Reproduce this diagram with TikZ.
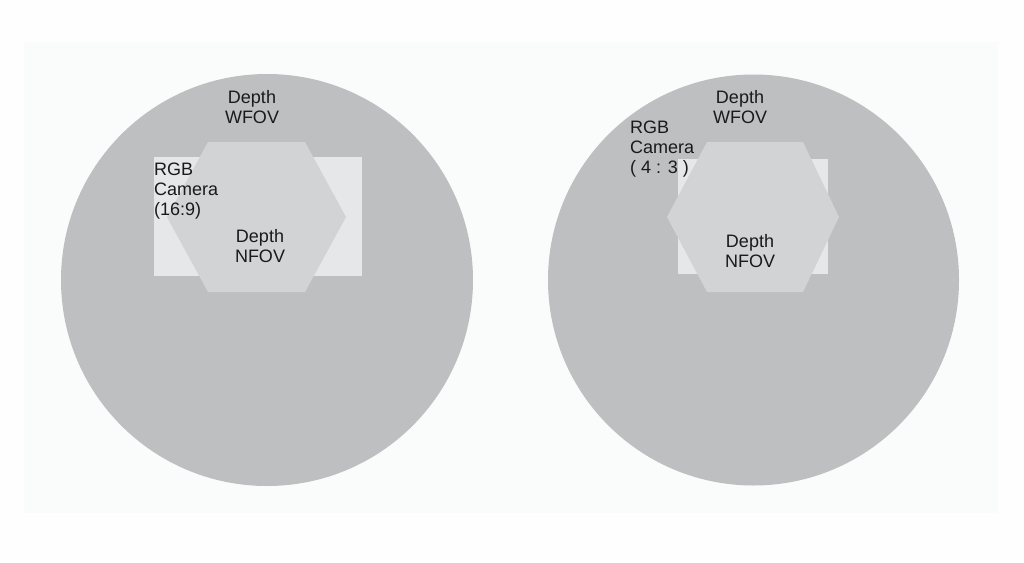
\documentclass[tikz,border=0pt]{standalone}
\usepackage{fontspec}
\setmainfont{Liberation Sans}
\definecolor{pagebg}{HTML}{FEFEFE}
\definecolor{panelbg}{HTML}{FAFBFB}
\definecolor{wfov}{HTML}{BDBFC1}
\definecolor{rgbcam}{HTML}{E6E7E8}
\definecolor{nfov}{HTML}{D2D3D4}
\definecolor{ink}{HTML}{1A1A1A}
\tikzset{
  x=1pt, y=-1pt,
  lbl/.style={inner sep=0pt, text=ink, font=\fontsize{18}{20}\selectfont},
}
\begin{document}
\begin{tikzpicture}
\useasboundingbox (0,0) rectangle (1024,562);
\fill[pagebg] (0,0) rectangle (1024,562);
\fill[panelbg] (24,42) rectangle (998,513);
% left
\fill[wfov] (267,280) circle[radius=206];
\fill[rgbcam] (154,157) rectangle (362,276);
\fill[nfov] (208,142) -- (305,142) -- (346,217) -- (305,292) -- (208,292) -- (167,217) -- cycle;
\node[lbl, align=center] (lw) at (252,107) {Depth\\WFOV};
\node[lbl, align=left, anchor=west] (lr) at (154,191) {RGB\\Camera\\(16:9)};
\node[lbl, align=center] (ln) at (260,246) {Depth\\NFOV};
% right
\fill[wfov] (753.5,280) circle[radius=205.5];
\fill[rgbcam] (678,159) rectangle (828,274);
\fill[nfov] (707,142) -- (803,142) -- (839,217) -- (803,292) -- (707,292) -- (667,217) -- cycle;
\node[lbl, align=center] (rw) at (740,107) {Depth\\WFOV};
\node[lbl, align=left, anchor=west] (rr) at (630,149) {RGB\\Camera\\( 4 : 3 )};
\node[lbl, align=center] (rn) at (750,251) {Depth\\NFOV};
\end{tikzpicture}
\end{document}
